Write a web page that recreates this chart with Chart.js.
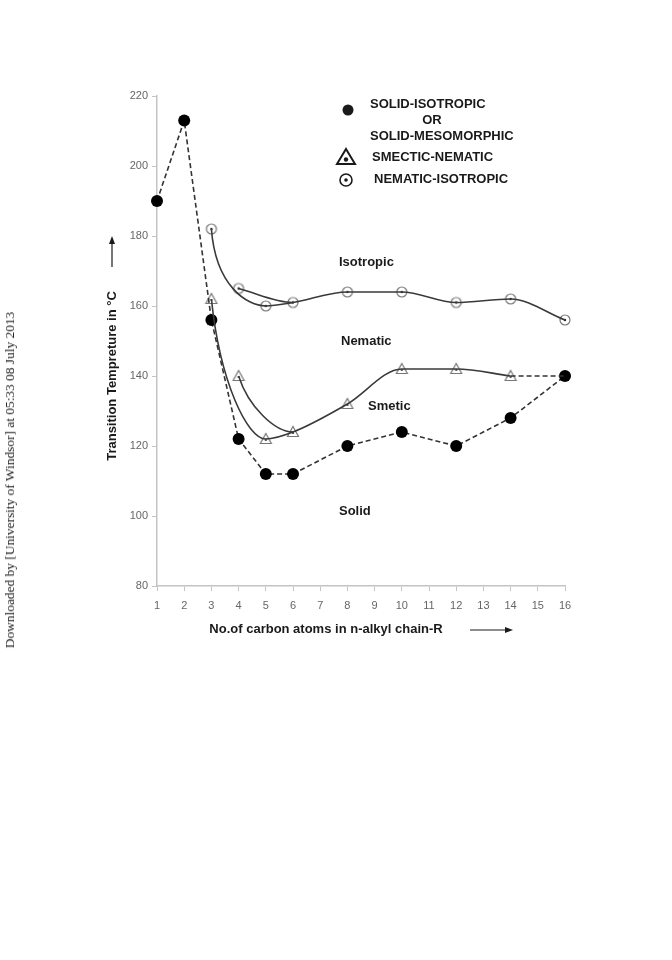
<!DOCTYPE html>
<html>
<head>
<meta charset="utf-8">
<script src="https://cdn.jsdelivr.net/npm/chart.js@4.4.1/dist/chart.umd.min.js"></script>
<style>
  html, body { margin: 0; padding: 0; background: #fff; }
  #wrap { position: relative; width: 672px; height: 960px; }
  #side {
    position: absolute; left: 10px; top: 480px;
    transform: translate(-50%, -50%) rotate(-90deg);
    white-space: nowrap;
    font-family: "Liberation Serif", "DejaVu Serif", serif;
    font-size: 13.4px; font-weight: normal; color: #222;
  }
</style>
</head>
<body>
<div id="wrap">
  <canvas id="chart" width="672" height="960"></canvas>
  <div id="side">Downloaded by [University of Windsor] at 05:33 08 July 2013</div>
</div>
<script>
// chain lengths (n-alkyl carbons) and transition temperatures in °C
const carbons = [1, 2, 3, 4, 5, 6, 8, 10, 12, 14, 16];
const solidIso = [190, 213, 156, 122, 112, 112, 120, 124, 120, 128, 140];
const smecticNematic = [null, null, 162, 140, 122, 124, 132, 142, 142, 140, null];
const nematicIso = [null, null, 182, 165, 160, 161, 164, 164, 161, 162, 156];

// which points each smooth curve runs through
const smecticMain = [3, 5, 6, 8, 10, 12, 14];
const smecticEven = [4, 6, 8];
const smecticTail = [14, 16];
const nematicMain = [3, 5, 6, 8, 10, 12, 14, 16];
const nematicEven = [4, 6, 8];

const yTicks = [80, 100, 120, 140, 160, 180, 200, 220];

const pick = (values, xs) => xs.map(x => {
    const i = carbons.indexOf(x);
    return { x: x, y: values[i] !== null ? values[i] : solidIso[i] };
});
const allPoints = values => carbons
    .map((x, i) => ({ x: x, y: values[i] }))
    .filter(p => p.y !== null);

function markerCanvas(kind) {
    const c = document.createElement('canvas');
    c.width = 14; c.height = 14;
    const g = c.getContext('2d');
    g.strokeStyle = '#777';
    g.lineWidth = 1.2;
    if (kind === 'circle') {
        g.beginPath(); g.arc(7, 7, 5, 0, Math.PI * 2); g.stroke();
        g.fillStyle = '#222';
        g.beginPath(); g.arc(7, 7, 1.2, 0, Math.PI * 2); g.fill();
    } else {
        g.beginPath(); g.moveTo(7, 1.5); g.lineTo(12.5, 11.5); g.lineTo(1.5, 11.5); g.closePath(); g.stroke();
        g.fillStyle = '#333';
        g.beginPath(); g.arc(7, 8, 1.1, 0, Math.PI * 2); g.fill();
    }
    return c;
}

const lineGrey = '#3a3a3a';
const font = '"Liberation Sans", Arial, sans-serif';

// the hand-drawn style curves leave their first point steeply downwards
const steepStart = {
    id: 'steepStart',
    afterDatasetsUpdate(chart) {
        chart.data.datasets.forEach((ds, i) => {
            if (!ds.steepStart) return;
            const line = chart.getDatasetMeta(i).dataset;
            line.updateControlPoints(chart.chartArea, 'x');
            const p0 = line.points[0], p1 = line.points[1];
            p0.cp2x = p0.x + (p1.x - p0.x) * ds.steepStart[0];
            p0.cp2y = p0.y + (p1.y - p0.y) * ds.steepStart[1];
        });
    }
};

const overlay = {
    id: 'overlay',
    afterDraw(chart) {
        const ctx = chart.ctx;
        ctx.save();
        ctx.fillStyle = '#1a1a1a';
        ctx.strokeStyle = '#1a1a1a';
        ctx.textBaseline = 'middle';
        ctx.font = 'bold 13px ' + font;

        // legend
        ctx.textAlign = 'left';
        ctx.fillText('SOLID-ISOTROPIC', 370, 104);
        ctx.textAlign = 'center';
        ctx.fillText('OR', 432, 120);
        ctx.textAlign = 'left';
        ctx.fillText('SOLID-MESOMORPHIC', 370, 136);
        ctx.fillText('SMECTIC-NEMATIC', 372, 157);
        ctx.fillText('NEMATIC-ISOTROPIC', 374, 179);

        ctx.beginPath(); ctx.arc(348, 110, 5.5, 0, Math.PI * 2); ctx.fill();
        ctx.lineWidth = 2;
        ctx.beginPath(); ctx.moveTo(346, 149); ctx.lineTo(355, 164); ctx.lineTo(337, 164); ctx.closePath(); ctx.stroke();
        ctx.beginPath(); ctx.arc(346, 159.5, 2.2, 0, Math.PI * 2); ctx.fill();
        ctx.lineWidth = 1.6;
        ctx.beginPath(); ctx.arc(346, 180, 6, 0, Math.PI * 2); ctx.stroke();
        ctx.beginPath(); ctx.arc(346, 180, 1.8, 0, Math.PI * 2); ctx.fill();

        // phase regions
        ctx.fillText('Isotropic', 339, 262);
        ctx.fillText('Nematic', 341, 341);
        ctx.fillText('Smetic', 368, 406);
        ctx.fillText('Solid', 339, 511);

        // axis titles and arrows
        ctx.textAlign = 'center';
        ctx.fillText('No.of carbon atoms in n-alkyl chain-R', 326, 629);
        ctx.save();
        ctx.translate(112, 376);
        ctx.rotate(-Math.PI / 2);
        ctx.fillText('Transition Tempreture in °C', 0, 0);
        ctx.restore();

        ctx.lineWidth = 1.2;
        ctx.beginPath(); ctx.moveTo(470, 630); ctx.lineTo(507, 630); ctx.stroke();
        ctx.beginPath(); ctx.moveTo(513, 630); ctx.lineTo(505, 627); ctx.lineTo(505, 633); ctx.closePath(); ctx.fill();
        ctx.beginPath(); ctx.moveTo(112, 267); ctx.lineTo(112, 242); ctx.stroke();
        ctx.beginPath(); ctx.moveTo(112, 236); ctx.lineTo(109, 244); ctx.lineTo(115, 244); ctx.closePath(); ctx.fill();
        ctx.restore();
    }
};

const fixedAxis = size => scale => {
    if (scale.isHorizontal()) scale.height = size; else scale.width = size;
    scale.paddingTop = 0; scale.paddingBottom = 0;
    scale.paddingLeft = 0; scale.paddingRight = 0;
};

const curve = (data, extra) => Object.assign({
    data: data,
    borderColor: lineGrey,
    borderWidth: 1.6,
    pointRadius: 0,
    cubicInterpolationMode: 'monotone',
    showLine: true,
    clip: false,
}, extra || {});

// hide the overlapping 6 -> 8 piece of the even branch
const hideLast = { borderColor: ctx => ctx.p0DataIndex >= 1 ? 'rgba(0,0,0,0)' : lineGrey };

new Chart(document.getElementById('chart'), {
    type: 'scatter',
    data: {
        datasets: [
            curve(pick(nematicIso, nematicMain), { steepStart: [0.08, 0.75] }),
            curve(pick(nematicIso, nematicEven), { segment: hideLast }),
            curve(pick(smecticNematic, smecticMain), { steepStart: [0.16, 0.6] }),
            curve(pick(smecticNematic, smecticEven), { segment: hideLast, steepStart: [0.18, 0.55] }),
            curve(pick(smecticNematic, smecticTail), {
                cubicInterpolationMode: 'default', tension: 0, borderDash: [5, 3], borderColor: '#333',
            }),
            curve(allPoints(solidIso), {
                cubicInterpolationMode: 'default', tension: 0, borderDash: [5, 3], borderColor: '#333',
                pointRadius: 6, pointBackgroundColor: '#000', pointBorderColor: '#000', pointBorderWidth: 0,
            }),
            {
                data: allPoints(smecticNematic), showLine: false, clip: false,
                pointStyle: markerCanvas('triangle'),
            },
            {
                data: allPoints(nematicIso), showLine: false, clip: false,
                pointStyle: markerCanvas('circle'),
            },
        ],
    },
    options: {
        responsive: false,
        animation: false,
        layout: { padding: { left: 117, right: 107, top: 96, bottom: 344 } },
        plugins: {
            legend: { display: false },
            tooltip: { enabled: false },
        },
        scales: {
            x: {
                type: 'linear', min: 1, max: 16,
                afterFit: fixedAxis(30),
                grid: { drawOnChartArea: false, tickLength: 5, color: '#c4c4c4' },
                border: { color: '#c4c4c4', width: 1.5 },
                ticks: { stepSize: 1, padding: 8, color: '#666', font: { family: font, size: 11 } },
            },
            y: {
                min: 80, max: 220,
                afterFit: fixedAxis(40),
                afterBuildTicks: scale => { scale.ticks = yTicks.map(v => ({ value: v })); },
                grid: { drawOnChartArea: false, tickLength: 5, color: '#c4c4c4' },
                border: { color: '#c4c4c4', width: 1.5 },
                ticks: { padding: 4, color: '#666', font: { family: font, size: 11 } },
            },
        },
    },
    plugins: [steepStart, overlay],
});
</script>
</body>
</html>
